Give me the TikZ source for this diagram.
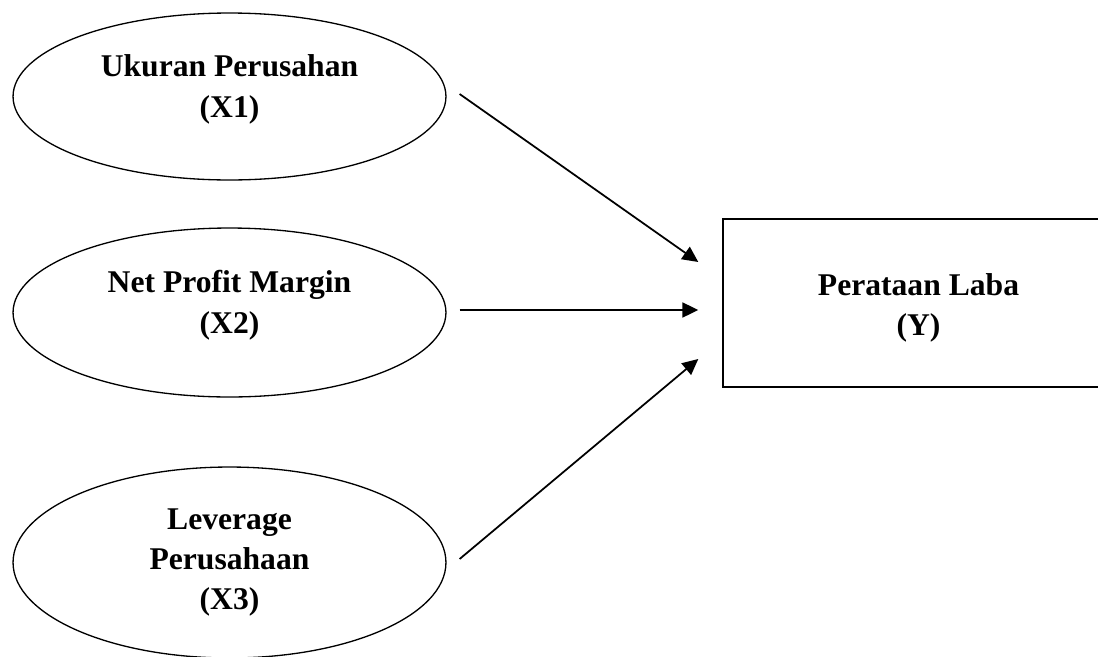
\documentclass[tikz,border=0pt]{standalone}
\usepackage{fontspec}
\setmainfont{Liberation Serif}
\usetikzlibrary{shapes.geometric,arrows.meta}

\tikzset{
  varbox/.style={draw, ellipse, line width=0.75pt, inner sep=0pt,
    minimum width=8.66cm, align=center,
    font=\bfseries\fontsize{18}{23}\selectfont},
  depbox/.style={draw, rectangle, line width=0.85pt, inner sep=0pt,
    minimum width=7.82cm, minimum height=3.36cm, align=center,
    font=\bfseries\fontsize{18}{23}\selectfont},
  link/.style={-{Triangle[length=9pt,width=8.5pt]}, line width=1pt}
}

\begin{document}
\begin{tikzpicture}[x=0.02cm, y=-0.02cm]
  \useasboundingbox (0,0) rectangle (1098,656);
  \clip (0,0) rectangle (1098,656);

  % variabel bebas
  \node[varbox, minimum height=3.34cm, text depth=12pt] (x1) at (229.5,96.5)
    {Ukuran Perusahan\\(X1)};
  \node[varbox, minimum height=3.38cm, text depth=12pt] (x2) at (229.5,312.5)
    {Net Profit Margin\\(X2)};
  \node[varbox, minimum height=3.82cm] (x3) at (229.5,562.5)
    {Leverage\\Perusahaan\\(X3)};

  % variabel terikat
  \node[depbox, text height=41pt] (y) at (918.5,303) {Perataan Laba\\(Y)};

  % hubungan
  \draw[link] ([shift={(13,-2.5)}]x1.east) -- ([shift={(-24,-41)}]y.west);
  \draw[link] ([shift={(13,-2.5)}]x2.east) -- ([shift={(-24,7)}]y.west);
  \draw[link] ([shift={(13,-3.5)}]x3.east) -- ([shift={(-24,56)}]y.west);
\end{tikzpicture}
\end{document}
